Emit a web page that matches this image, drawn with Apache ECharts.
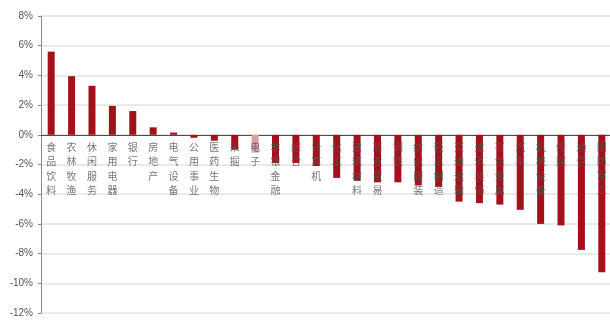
<!DOCTYPE html>
<html>
<head>
<meta charset="utf-8">
<script src="https://cdn.jsdelivr.net/npm/echarts@6/dist/echarts.min.js"></script>
<style>
  html, body { margin: 0; padding: 0; background: #fff; }
  #chart { width: 610px; height: 322px; }
</style>
</head>
<body>
<div id="chart"></div>
<script>
// 行业周涨跌幅（%）
const industries = [
  '食品饮料', '农林牧渔', '休闲服务', '家用电器', '银行', '房地产', '电气设备',
  '公用事业', '医药生物', '采掘', '电子', '非银金融', '综合', '计算机',
  '化工', '建筑材料', '商业贸易', '钢铁', '纺织服装', '轻工制造', '交通运输',
  '建筑装饰', '有色金属', '汽车', '机械设备', '传媒', '通信', '国防军工'
];
const changes = [
  5.6, 3.95, 3.3, 1.95, 1.6, 0.5, 0.15,
  -0.2, -0.4, -1.0, -1.2, -1.9, -1.9, -2.1,
  -2.9, -3.1, -3.2, -3.2, -3.4, -3.5, -4.5,
  -4.6, -4.7, -5.05, -6.0, -6.1, -7.75, -9.25
];
const highlighted = ['电子'];
const yTicks = { min: -12, max: 8, step: 2 };

const barColor = '#A3111B';
const highlightColor = '#D9A0A2';

const chart = echarts.init(document.getElementById('chart'), null, { renderer: 'canvas' });
chart.setOption({
  animation: false,
  backgroundColor: '#fff',
  grid: { left: 41, top: 16, width: 571, height: 297, containLabel: false, outerBoundsMode: 'none' },
  xAxis: {
    type: 'category',
    data: industries,
    axisLine: { onZero: true, lineStyle: { color: '#4a4a4a', width: 1 } },
    axisTick: { show: false },
    axisLabel: { show: false },
    splitLine: { show: false }
  },
  yAxis: {
    type: 'value',
    min: yTicks.min,
    max: yTicks.max,
    interval: yTicks.step,
    axisLine: { show: true, lineStyle: { color: '#8a8a8a', width: 1 } },
    axisTick: { show: true, length: 3, lineStyle: { color: '#8a8a8a' } },
    axisLabel: {
      margin: 8,
      fontSize: 10,
      color: '#555',
      fontFamily: 'Liberation Sans',
      formatter: v => v + '%'
    },
    splitLine: { show: true, lineStyle: { color: '#e3e3e3', width: 1.5 } }
  },
  series: [
    {
      type: 'bar',
      barWidth: 7,
      data: changes.map((v, i) => ({
        value: v,
        itemStyle: { color: highlighted.includes(industries[i]) ? highlightColor : barColor }
      }))
    },
    {
      // 行业名称：竖排，紧贴零轴下方
      type: 'scatter',
      symbolSize: 0,
      z: 5,
      silent: true,
      data: industries.map(() => 0),
      label: {
        show: true,
        position: 'bottom',
        distance: 5,
        fontSize: 10,
        lineHeight: 14.5,
        color: '#555',
        fontFamily: 'Noto Sans CJK SC',
        formatter: p => industries[p.dataIndex].split('').join('\n')
      }
    }
  ]
});
</script>
</body>
</html>
